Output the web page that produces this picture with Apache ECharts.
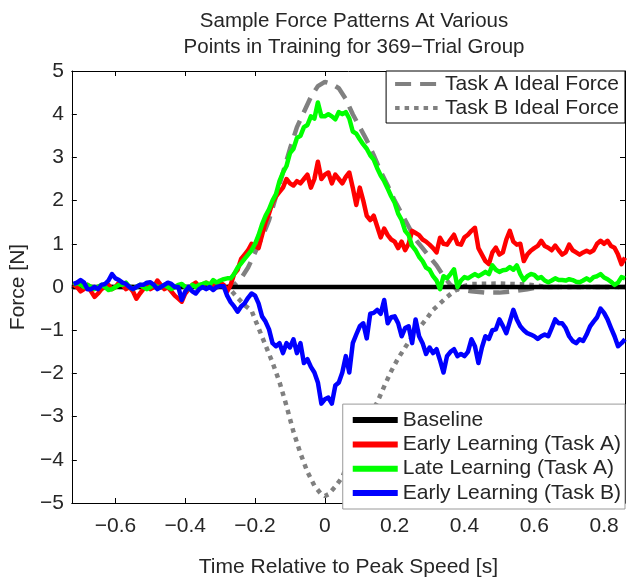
<!DOCTYPE html>
<html>
<head>
<meta charset="utf-8">
<script src="https://cdn.jsdelivr.net/npm/echarts@6/dist/echarts.min.js"></script>
<style>
html,body{margin:0;padding:0;background:#fff;}
#chart{width:627px;height:583px;}
</style>
</head>
<body>
<div id="chart"></div>
<script>
// ---- Data ----
const time = [
-0.72,-0.71,-0.70,-0.69,-0.68,-0.67,-0.66,-0.65,-0.64,-0.63,
-0.62,-0.61,-0.60,-0.59,-0.58,-0.57,-0.56,-0.55,-0.54,-0.53,
-0.52,-0.51,-0.50,-0.49,-0.48,-0.47,-0.46,-0.45,-0.44,-0.43,
-0.42,-0.41,-0.40,-0.39,-0.38,-0.37,-0.36,-0.35,-0.34,-0.33,
-0.32,-0.31,-0.30,-0.29,-0.28,-0.27,-0.26,-0.25,-0.24,-0.23,
-0.22,-0.21,-0.20,-0.19,-0.18,-0.17,-0.16,-0.15,-0.14,-0.13,
-0.12,-0.11,-0.10,-0.09,-0.08,-0.07,-0.06,-0.05,-0.04,-0.03,
-0.02,-0.01,0.00,0.01,0.02,0.03,0.04,0.05,0.06,0.07,
0.08,0.09,0.10,0.11,0.12,0.13,0.14,0.15,0.16,0.17,
0.18,0.19,0.20,0.21,0.22,0.23,0.24,0.25,0.26,0.27,
0.28,0.29,0.30,0.31,0.32,0.33,0.34,0.35,0.36,0.37,
0.38,0.39,0.40,0.41,0.42,0.43,0.44,0.45,0.46,0.47,
0.48,0.49,0.50,0.51,0.52,0.53,0.54,0.55,0.56,0.57,
0.58,0.59,0.60,0.61,0.62,0.63,0.64,0.65,0.66,0.67,
0.68,0.69,0.70,0.71,0.72,0.73,0.74,0.75,0.76,0.77,
0.78,0.79,0.80,0.81,0.82,0.83,0.84,0.85,0.86
];
const earlyA = [
0.05,0.0,-0.1,-0.05,0.05,-0.1,-0.23,-0.15,-0.05,0.0,
0.05,-0.05,0.0,0.1,0.05,-0.05,0.0,-0.1,-0.27,-0.15,
-0.05,0.05,-0.05,0.0,0.15,0.05,-0.05,0.0,-0.1,-0.2,
-0.27,-0.34,-0.15,-0.05,0.05,0.1,0.0,0.05,0.1,0.05,
0.05,0.0,0.1,0.05,-0.1,0.05,0.3,0.4,0.65,0.75,
0.85,1.0,0.95,0.9,1.2,1.5,1.7,1.95,2.1,2.2,
2.3,2.5,2.4,2.35,2.45,2.4,2.5,2.6,2.3,2.5,
2.9,2.5,2.6,2.65,2.4,2.6,2.5,2.4,2.55,2.65,
2.3,1.9,2.3,2.0,1.65,1.55,1.65,1.4,1.15,1.35,
1.2,1.1,1.05,0.9,1.05,0.85,1.0,1.3,1.25,1.2,
1.1,1.05,0.98,0.9,0.8,1.14,1.0,0.98,1.1,1.21,
1.0,0.98,1.15,1.21,1.3,1.37,0.9,0.75,0.6,0.53,
0.8,0.91,0.75,0.8,1.1,1.3,1.05,0.98,1.0,0.6,
0.75,0.84,0.9,0.95,1.07,0.95,0.91,0.85,0.96,0.85,
0.75,0.8,0.98,0.85,0.8,0.75,0.8,0.84,0.8,0.85,
1.0,1.07,1.0,1.07,0.95,0.91,0.75,0.53,0.68
];
const lateA = [
0.05,0.1,0.05,0.0,0.05,0.0,-0.05,0.0,0.05,0.0,
-0.07,-0.05,0.0,0.05,0.05,0.1,0.0,-0.05,0.0,0.05,
0.0,-0.05,0.0,0.05,0.0,0.0,0.05,0.0,-0.05,0.0,
0.05,0.07,0.0,-0.05,0.05,0.0,0.05,0.07,0.1,0.05,
0.16,0.1,0.15,0.18,0.2,0.2,0.3,0.45,0.55,0.65,
0.75,0.85,1.0,1.2,1.45,1.65,1.8,2.0,2.15,2.45,
2.65,2.8,3.1,3.2,3.45,3.5,3.7,3.75,3.95,3.9,
4.27,3.95,3.95,4.0,3.95,3.88,4.05,4.0,4.05,3.9,
3.6,3.55,3.42,3.3,3.2,3.05,2.95,2.75,2.58,2.45,
2.28,2.1,1.95,1.7,1.55,1.3,1.2,0.95,0.85,0.7,
0.6,0.45,0.4,0.25,0.15,-0.05,0.25,0.2,0.3,0.41,
0.0,0.15,0.23,0.2,0.25,0.3,0.25,0.3,0.35,0.3,
0.5,0.4,0.35,0.39,0.4,0.46,0.4,0.5,0.3,0.16,
0.25,0.3,0.28,0.2,0.23,0.15,0.11,0.15,0.2,0.16,
0.16,0.15,0.18,0.16,0.12,0.11,0.15,0.2,0.15,0.23,
0.25,0.3,0.22,0.18,0.12,0.05,0.1,0.23,0.2
];
const earlyB = [
0.07,0.1,0.16,0.1,-0.05,-0.05,0.0,-0.05,0.05,0.07,
0.15,0.3,0.2,0.16,0.1,0.07,0.0,-0.05,0.0,0.05,
0.05,0.1,0.11,0.05,-0.05,0.0,0.05,0.1,0.07,0.0,
0.0,-0.3,-0.1,0.0,-0.1,-0.15,-0.05,0.0,-0.05,0.0,
-0.07,0.0,0.02,0.02,-0.2,-0.35,-0.45,-0.57,-0.45,-0.38,
-0.25,-0.15,-0.2,-0.38,-0.68,-0.8,-0.98,-1.3,-1.37,-1.3,
-1.53,-1.3,-1.4,-1.21,-1.53,-1.3,-1.76,-1.67,-1.85,-1.98,
-2.21,-2.7,-2.6,-2.56,-2.7,-2.28,-2.21,-1.98,-1.6,-1.98,
-1.3,-1.1,-0.91,-0.84,-1.19,-0.62,-0.6,-0.53,-0.62,-0.3,
-0.84,-0.7,-0.68,-0.84,-1.14,-0.95,-0.91,-1.3,-0.75,-1.14,
-1.3,-1.55,-1.4,-1.53,-1.44,-1.7,-1.98,-1.6,-1.5,-1.44,
-1.6,-1.55,-1.6,-1.5,-1.21,-1.37,-1.76,-1.4,-1.14,-1.2,
-1.0,-0.98,-0.75,-0.9,-1.07,-0.8,-0.53,-0.75,-0.91,-1.0,
-1.07,-1.1,-1.14,-1.2,-1.14,-1.1,-1.14,-0.95,-0.75,-0.84,
-0.84,-0.95,-1.14,-1.25,-1.3,-1.21,-1.25,-1.1,-0.91,-0.8,
-0.7,-0.5,-0.6,-0.75,-0.95,-1.14,-1.37,-1.3,-1.21
];
const idealATime = [-0.725,-0.28,-0.26,-0.24,-0.22,-0.20,-0.18,-0.16,-0.14,-0.12,-0.10,-0.08,-0.06,-0.04,-0.02,0.00,0.02,0.04,0.06,0.08,0.10,0.12,0.14,0.16,0.18,0.20,0.22,0.24,0.26,0.28,0.30,0.32,0.34,0.36,0.38,0.42,0.46,0.50,0.54,0.58,0.62,0.86];
const idealAForce = [0,0,0.05,0.2,0.45,0.8,1.15,1.55,2.1,2.65,3.2,3.7,4.05,4.4,4.65,4.75,4.7,4.6,4.35,4.0,3.7,3.4,3.05,2.67,2.35,2.0,1.7,1.4,1.1,0.9,0.7,0.5,0.25,0.05,-0.05,-0.1,-0.13,-0.13,-0.1,-0.05,0,0];
const idealBTime = [-0.725,-0.29,-0.27,-0.25,-0.23,-0.21,-0.19,-0.17,-0.15,-0.13,-0.11,-0.09,-0.07,-0.05,-0.03,-0.01,0.00,0.01,0.03,0.05,0.07,0.09,0.11,0.13,0.15,0.17,0.19,0.21,0.23,0.25,0.27,0.29,0.31,0.33,0.35,0.37,0.39,0.42,0.50,0.58,0.64,0.86];
const idealBForce = [0,0,-0.07,-0.25,-0.42,-0.55,-0.95,-1.35,-1.75,-2.2,-2.75,-3.35,-3.85,-4.28,-4.6,-4.8,-4.84,-4.8,-4.62,-4.4,-4.0,-3.6,-3.2,-2.95,-2.67,-2.3,-1.95,-1.65,-1.4,-1.15,-0.95,-0.75,-0.53,-0.38,-0.23,-0.1,0.0,0.07,0.08,0.06,0,0];
const baselineTime = [-0.725, 0.86];
const baselineForce = [0, 0];
const xTicks = [-0.6,-0.4,-0.2,0,0.2,0.4,0.6,0.8];
const yTicks = [-5,-4,-3,-2,-1,0,1,2,3,4,5];
const titleLines = ['Sample Force Patterns At Various','Points in Training for 369\u2212Trial Group'];

const pairs = (xs, ys) => xs.map((x, i) => [x, ys[i]]);
const fmt = v => (v < 0 ? '\u2212' + String(Math.abs(v)) : String(v));
const TXT = '#262626';
const FONT = 'Liberation Sans, Arial, sans-serif';

const chart = echarts.init(document.getElementById('chart'), null, {renderer: 'canvas'});
const baseAxisX = {
  type: 'value', min: -0.725, max: 0.86,
  axisLine: {show: true, onZero: false, lineStyle: {color: '#000', width: 1}},
  axisTick: {show: true, inside: true, length: 5, customValues: xTicks, lineStyle: {color: '#000'}},
  splitLine: {show: false}
};
const baseAxisY = {
  type: 'value', min: -5, max: 5, interval: 1,
  axisLine: {show: true, onZero: false, lineStyle: {color: '#000', width: 1}},
  axisTick: {show: true, inside: true, length: 5, customValues: yTicks, lineStyle: {color: '#000'}},
  splitLine: {show: false}
};
const option = {
  animation: false,
  backgroundColor: '#fff',
  title: {
    text: titleLines.join('\n'),
    left: 349, top: 3, textAlign: 'center',
    textStyle: {fontFamily: FONT, fontSize: 20.5, fontWeight: 'normal', color: TXT, lineHeight: 26}
  },
  grid: {left: 71, right: 2, top: 71, bottom: 74, containLabel: false},
  xAxis: [
    Object.assign({}, baseAxisX, {
      position: 'bottom',
      name: 'Time Relative to Peak Speed [s]', nameLocation: 'middle', nameGap: 54,
      nameTextStyle: {fontFamily: FONT, fontSize: 21, color: TXT},
      axisLabel: {show: true, customValues: xTicks, formatter: fmt, margin: 13,
        fontFamily: FONT, fontSize: 21, color: TXT}
    }),
    Object.assign({}, baseAxisX, {position: 'top', axisLabel: {show: false}})
  ],
  yAxis: [
    Object.assign({}, baseAxisY, {
      position: 'left',
      name: 'Force [N]', nameLocation: 'middle', nameGap: 35,
      nameTextStyle: {fontFamily: FONT, fontSize: 21, color: TXT},
      axisLabel: {show: true, customValues: yTicks, formatter: fmt, margin: 8,
        fontFamily: FONT, fontSize: 21, color: TXT}
    }),
    Object.assign({}, baseAxisY, {position: 'right', axisLabel: {show: false}})
  ],
  legend: [
    {
      data: ['Task A Ideal Force', 'Task B Ideal Force'],
      orient: 'vertical', right: 2, top: 71,
      itemWidth: 45, itemHeight: 14, itemGap: 2,
      padding: [2, 6, 4, 7],
      backgroundColor: '#fff', borderColor: '#000', borderWidth: 1, borderRadius: 0,
      itemStyle: {opacity: 0},
      lineStyle: {width: 4},
      textStyle: {fontFamily: FONT, fontSize: 21, color: TXT, lineHeight: 22},
      selectedMode: false
    },
    {
      data: ['Baseline', 'Early Learning (Task A)', 'Late Learning (Task A)', 'Early Learning (Task B)'],
      orient: 'vertical', right: 2, bottom: 74,
      itemWidth: 45, itemHeight: 14, itemGap: 2.3,
      padding: [5, 4, 5, 7],
      backgroundColor: '#fff', borderColor: '#999', borderWidth: 1, borderRadius: 0,
      itemStyle: {opacity: 0},
      lineStyle: {width: 6},
      textStyle: {fontFamily: FONT, fontSize: 21, color: TXT, lineHeight: 22},
      selectedMode: false
    }
  ],
  series: [
    {name: 'Task A Ideal Force', type: 'line', data: pairs(idealATime, idealAForce),
      symbol: 'none', smooth: false, color: '#808080',
      lineStyle: {color: '#808080', width: 4.5, type: [16, 9], cap: 'butt'}},
    {name: 'Task B Ideal Force', type: 'line', data: pairs(idealBTime, idealBForce),
      symbol: 'none', smooth: false, color: '#808080',
      lineStyle: {color: '#808080', width: 4.5, type: [4.5, 5], cap: 'butt'}},
    {name: 'Baseline', type: 'line', data: pairs(baselineTime, baselineForce),
      symbol: 'none', color: '#000', lineStyle: {color: '#000', width: 4.5}},
    {name: 'Early Learning (Task A)', type: 'line', data: pairs(time, earlyA),
      symbol: 'none', color: '#ff0000', lineStyle: {color: '#ff0000', width: 4.5, join: 'round'}},
    {name: 'Late Learning (Task A)', type: 'line', data: pairs(time, lateA),
      symbol: 'none', color: '#00ff00', lineStyle: {color: '#00ff00', width: 4.5, join: 'round'}},
    {name: 'Early Learning (Task B)', type: 'line', data: pairs(time, earlyB),
      symbol: 'none', color: '#0000ff', lineStyle: {color: '#0000ff', width: 4.5, join: 'round'}}
  ]
};
chart.setOption(option);
</script>
</body>
</html>
